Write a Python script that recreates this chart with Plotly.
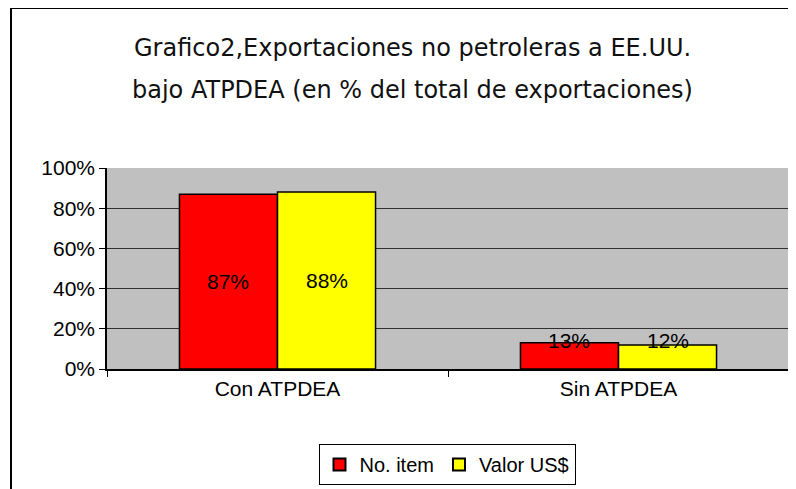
import plotly.graph_objects as go

categories = ["Con ATPDEA", "Sin ATPDEA"]
no_item = [0.87, 0.13]
valor_usd = [0.88, 0.12]
series_names = ["No. item", "Valor US$"]
series_colors = ["#FF0000", "#FFFF00"]
title_lines = ["Grafico2,Exportaciones no petroleras a EE.UU.",
               "bajo ATPDEA (en % del total de exportaciones)"]
y_ticks = [0, 0.2, 0.4, 0.6, 0.8, 1.0]

# page is offset by 8px (body margin); geometry below is in figure coords
OFF = 8
PL, PR, PT, PB = 107 - OFF, 789 - OFF, 168 - OFF, 369 - OFF
W, H = 796, 489
PW, PH = PR - PL, PB - PT

def px_x(x):
    return (x - OFF - PL) / PW

def px_y(y):
    return (PB - (y - OFF)) / PH

FONT = "Liberation Sans, Arial"
FS = 21

fig = go.Figure()
for name, vals, col in zip(series_names, [no_item, valor_usd], series_colors):
    fig.add_trace(go.Bar(
        x=categories, y=vals, name=name,
        marker=dict(color=col, line=dict(color="black", width=1.5)),
        offsetgroup=name,
    ))

offsets = [-0.25, 0.25]
BARGAP = 0.425
ann = []
for k, vals in enumerate([no_item, valor_usd]):
    for i, v in enumerate(vals):
        ann.append(dict(
            x=i + offsets[k] * (1 - BARGAP), y=max(v / 2, 0.14),
            xref="x", yref="y", text=f"{round(v*100)}%", showarrow=False,
            font=dict(family=FONT, size=FS, color="black"),
        ))

title_font = dict(family="Comic Sans MS, DejaVu Sans", size=24, color="#111111")
for line, yc in zip(title_lines, [48, 90]):
    ann.append(dict(text=line, xref="paper", yref="paper",
                    x=px_x(412), y=px_y(yc), showarrow=False,
                    xanchor="center", yanchor="middle", font=title_font))

fig.update_layout(
    width=W, height=H,
    margin=dict(l=PL, r=W - PR, t=PT, b=H - PB),
    paper_bgcolor="white", plot_bgcolor="#C0C0C0",
    barmode="group", bargap=BARGAP, bargroupgap=0,
    showlegend=True,
    legend=dict(orientation="h", x=px_x(447), xanchor="center", y=px_y(444), yanchor="top",
                bordercolor="black", borderwidth=1, bgcolor="white",
                font=dict(family=FONT, size=20, color="black"),
                itemsizing="constant", itemwidth=30, traceorder="normal"),
    annotations=ann,
    shapes=[
        dict(type="rect", xref="paper", yref="paper",
             x0=px_x(11), x1=1.2, y0=-1.0, y1=px_y(8),
             line=dict(color="black", width=2), fillcolor="rgba(0,0,0,0)", layer="below"),
        dict(type="line", xref="paper", yref="paper", x0=1, x1=1, y0=0, y1=1,
             line=dict(color="#808080", width=1.5)),
    ],
)
fig.update_xaxes(
    showline=True, linecolor="black", linewidth=1.5,
    ticks="outside", tickson="boundaries", ticklen=6, tickcolor="black",
    tickfont=dict(family=FONT, size=FS, color="black"),
    showgrid=False,
)
fig.update_yaxes(
    range=[0, 1], tickvals=y_ticks, tickformat=".0%",
    showline=True, linecolor="black", linewidth=1.5,
    ticks="outside", ticklen=6, tickcolor="black",
    tickfont=dict(family=FONT, size=FS, color="black"),
    showgrid=True, gridcolor="#303030", gridwidth=1, zeroline=False,
)
fig.write_html("out.html")
